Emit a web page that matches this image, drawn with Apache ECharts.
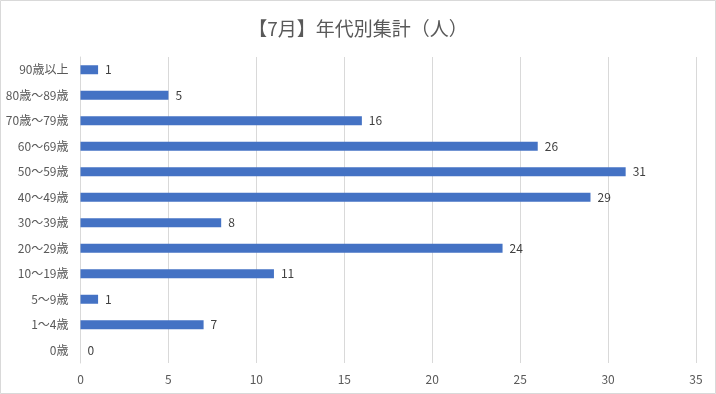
<!DOCTYPE html>
<html><head><meta charset="utf-8">
<script src="https://cdn.jsdelivr.net/npm/echarts@6/dist/echarts.min.js"></script>
<style>html,body{margin:0;padding:0;background:#fff}#c{width:716px;height:394px}</style>
</head><body><div id="c"></div>
<script>
const titleText = '【7月】年代別集計（人）';
const categories = ['0歳','1〜4歳','5〜9歳','10〜19歳','20〜29歳','30〜39歳','40〜49歳','50〜59歳','60〜69歳','70歳〜79歳','80歳〜89歳','90歳以上'];
const values = [0,7,1,11,24,8,29,31,26,16,5,1];
const xTicks = [0,5,10,15,20,25,30,35];

const font = '"Noto Sans CJK JP", "Noto Sans", sans-serif';
const chart = echarts.init(document.getElementById('c'), null, {renderer:'canvas'});
chart.setOption({
  animation:false,
  backgroundColor:'#fff',
  title:{text:titleText,left:'center',top:14,textStyle:{fontFamily:font,fontSize:19,fontWeight:'normal',color:'#595959'}},
  graphic:[{type:'rect',shape:{x:0.5,y:0.5,width:715,height:393},style:{fill:null,stroke:'#d9d9d9',lineWidth:1},silent:true,z:-1}],
  grid:{left:80.5,right:20,top:57,bottom:31,containLabel:false},
  xAxis:{type:'value',min:xTicks[0],max:xTicks[xTicks.length-1],interval:5,
    axisLine:{show:false},axisTick:{show:false},
    splitLine:{lineStyle:{color:'#d9d9d9',width:1}},
    axisLabel:{fontFamily:font,fontSize:12,color:'#595959',margin:10}},
  yAxis:{type:'category',data:categories,
    axisLine:{show:true,lineStyle:{color:'#d9d9d9'}},axisTick:{show:false},
    axisLabel:{fontFamily:font,fontSize:12,color:'#595959',margin:12}},
  series:[{type:'bar',data:values,barWidth:9,
    itemStyle:{color:'#4472c4'},
    label:{show:true,position:'right',distance:7,fontFamily:font,fontSize:12,color:'#404040'}}]
});
</script></body></html>
